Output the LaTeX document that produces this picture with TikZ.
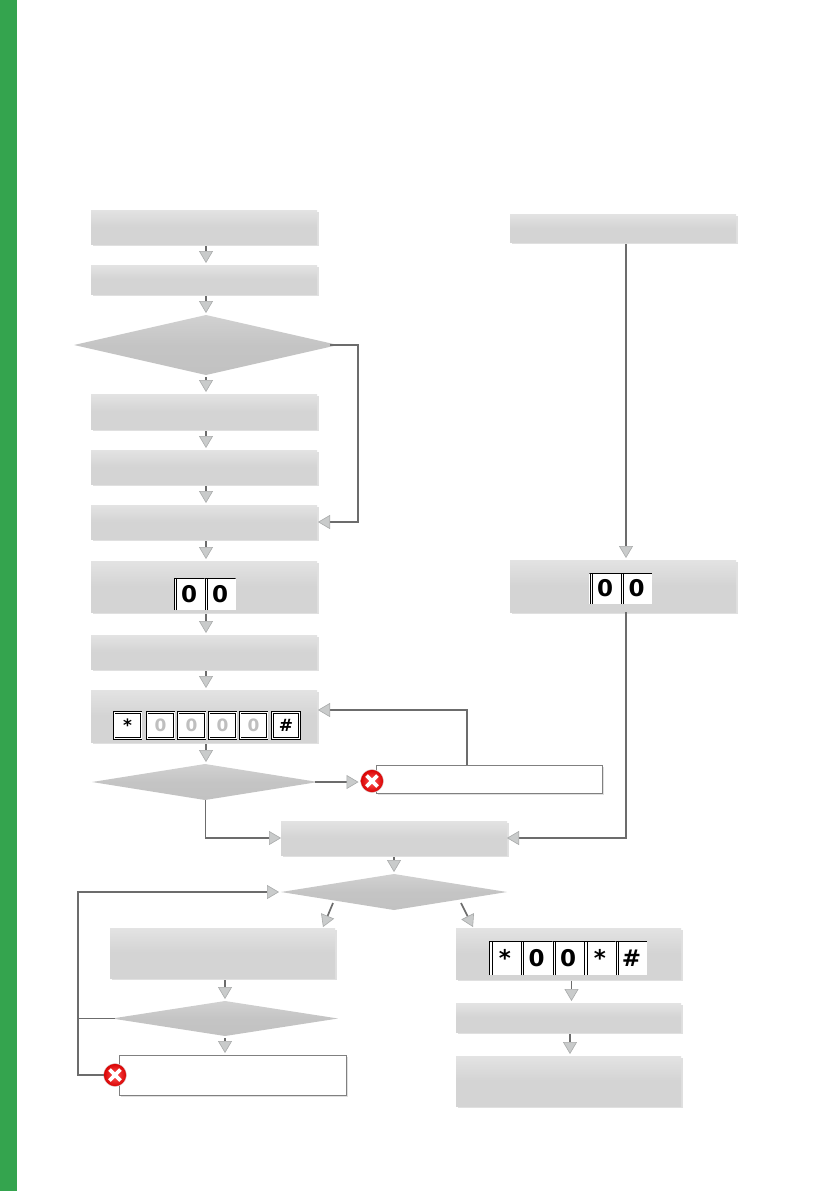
\documentclass[tikz,border=0pt]{standalone}
\usepackage{fontspec}
\setmainfont{DejaVu Sans}
\usetikzlibrary{shapes.geometric,arrows.meta,shadows}
\definecolor{bargreen}{HTML}{34A44E}
\definecolor{linegray}{HTML}{6C6C6C}
\definecolor{headfill}{HTML}{C9CBCB}
\definecolor{headedge}{HTML}{A8AAAA}
\tikzset{
  x=1pt,y=-1pt,
  softshadow/.style={general shadow={shadow xshift=1.8pt,shadow yshift=-1.8pt,fill=black!30,opacity=.4}},
  graybox/.style={rectangle,inner sep=0,outer sep=0,softshadow,top color=black!11,bottom color=black!17,middle color=black!17},
  whitebox/.style={rectangle,inner sep=0,outer sep=0,softshadow,fill=white,draw=black!50,line width=.8pt},
  decision/.style={diamond,inner sep=0,outer sep=0,aspect=3,top color=black!18,bottom color=black!24,middle color=black!23},
  conn/.style={draw=linegray,line width=1.7pt,-{Triangle[length=12pt,width=14pt,fill=headfill,color=headedge,line width=.6pt]}},
  plainconn/.style={draw=linegray,line width=1.8pt},
  shortconn/.style={conn,shorten <=2pt,shorten >=2pt},
  opencell/.style={rectangle,inner sep=0,outer sep=0,fill=white,font=\bfseries\fontsize{23}{23}\selectfont,
    path picture={\draw[black,line width=.7pt] (path picture bounding box.south west)++(.6,0) -- ++(0,-36) (path picture bounding box.south west)++(3,0) -- ++(0,-36);
      \draw[black,line width=1.2pt] (path picture bounding box.north west) -- (path picture bounding box.north east);}},
  framecell/.style={rectangle,inner sep=0,outer sep=0,minimum width=27pt,minimum height=26pt,fill=white,draw=black,line width=.6pt,double=white,double distance=1pt,font=\bfseries\fontsize{17}{17}\selectfont},
  dimcell/.style={framecell,text=black!25},
  errdisc/.style={circle,inner sep=0,outer sep=0,minimum size=23pt,inner color=red!65!white,outer color=red!85!black,draw=black!15,line width=.4pt}
}
\newcommand\gbox[6]{\node[#2,minimum width={(#5-#3)*1pt},minimum height={(#6-#4)*1pt}] (#1) at ({(#3+#5)/2},{(#4+#6)/2}) {};}
\newcommand\erricon[3]{\node[errdisc] (#1) at (#2,#3) {};
  \draw[white,line width=3.6pt] (#2-5.5,#3-5.5) -- (#2+5.5,#3+5.5) (#2-5.5,#3+5.5) -- (#2+5.5,#3-5.5);}
\begin{document}
\begin{tikzpicture}
\useasboundingbox (0,0) rectangle (839,1191);
\fill[bargreen] (0,0) rectangle (17,1191);
% left column
\gbox{b1}{graybox}{91}{210}{317}{244}
\gbox{b2}{graybox}{91}{265}{317}{294}
\gbox{d1}{decision}{74}{315}{338}{375}
\gbox{b3}{graybox}{91}{394}{317}{429}
\gbox{b4}{graybox}{91}{450}{317}{484}
\gbox{b5}{graybox}{91}{505}{317}{539}
\gbox{b6}{graybox}{91}{561}{317}{612}
\gbox{b7}{graybox}{91}{635}{317}{669}
\gbox{b8}{graybox}{91}{690}{317}{742}
\gbox{d2}{decision}{92}{764}{318}{800}
\gbox{e1}{whitebox}{376}{765}{602}{793}
% right column
\gbox{r1}{graybox}{510}{214}{736}{242}
\gbox{r2}{graybox}{510}{560}{736}{612}
% lower part
\gbox{b9}{graybox}{281}{821}{507}{855}
\gbox{d3}{decision}{281}{874}{507}{910}
\gbox{b10}{graybox}{110}{928}{335}{978}
\gbox{d4}{decision}{112}{1001}{338}{1036}
\gbox{e2}{whitebox}{119}{1055}{346}{1095}
\gbox{b11}{graybox}{456}{928}{681}{979}
\gbox{b12}{graybox}{456}{1003}{681}{1032}
\gbox{b13}{graybox}{456}{1056}{681}{1106}
% key cells
\node[opencell,minimum width=31pt,minimum height=32pt] (k1) at (189,594) {0};
\node[opencell,minimum width=31pt,minimum height=32pt] (k2) at (220,594) {0};
\node[framecell] (m1) at (127.5,725.5) {*};
\node[dimcell] (m2) at (160.5,725.5) {0};
\node[dimcell] (m3) at (191.5,725.5) {0};
\node[dimcell] (m4) at (222.5,725.5) {0};
\node[dimcell] (m5) at (253.5,725.5) {0};
\node[framecell] (m6) at (286,725.5) {\#};
\node[opencell,minimum width=31.5pt,minimum height=31pt] (n1) at (605,588.5) {0};
\node[opencell,minimum width=31.5pt,minimum height=31pt] (n2) at (636.5,588.5) {0};
\node[opencell,minimum width=31.6pt,minimum height=34pt] (p1) at (505,958) {*};
\node[opencell,minimum width=31.6pt,minimum height=34pt] (p2) at (536.6,958) {0};
\node[opencell,minimum width=31.6pt,minimum height=34pt] (p3) at (568.2,958) {0};
\node[opencell,minimum width=31.6pt,minimum height=34pt] (p4) at (599.8,958) {*};
\node[opencell,minimum width=31.6pt,minimum height=34pt] (p5) at (631.4,958) {\#};
% free ends
\coordinate (lo) at (78,1075);
\coordinate (lm) at (78,1018.5);
\coordinate (lt) at (78,892);
\coordinate (dl) at (333,903);
\coordinate (tl) at (323,927);
\coordinate (dr) at (461,903);
\coordinate (tr) at (473,927);
\coordinate (s1) at (358,345);
\coordinate (s2) at (358,522);
\coordinate (t5) at (318,522);
\coordinate (u1) at (467,710);
\coordinate (t8) at (318,710);
\coordinate (v1) at (205.5,838);
\coordinate (w1) at (626,838);
% connectors
\draw[shortconn] ([xshift=2pt]b1.south) -- ([xshift=2pt]b2.north);
\draw[shortconn] ([xshift=2pt]b2.south) -- (d1.north);
\draw[shortconn] (d1.south) -- ([xshift=2pt]b3.north);
\draw[shortconn] ([xshift=2pt]b3.south) -- ([xshift=2pt]b4.north);
\draw[shortconn] ([xshift=2pt]b4.south) -- ([xshift=2pt]b5.north);
\draw[shortconn] ([xshift=2pt]b5.south) -- ([xshift=2pt]b6.north);
\draw[shortconn] ([xshift=2pt]b6.south) -- ([xshift=2pt]b7.north);
\draw[shortconn] ([xshift=2pt]b7.south) -- ([xshift=2pt]b8.north);
\draw[shortconn] ([xshift=2pt]b8.south) -- ([xshift=1pt]d2.north);
\draw[conn,shorten <=-8pt] (d1.east) -- (s1) -- (s2) -- (t5);
\erricon{i1}{372}{781}
\erricon{i2}{115}{1075}
\draw[conn,shorten >=2pt,shorten <=-3pt] (d2.east) -- (i1.west |- d2.east);
\draw[conn] (e1.north -| u1) -- (u1) -- (t8);
\draw[conn] ([xshift=.5pt]d2.south) -- (v1) -- (b9.west);
\draw[conn,shorten <=2pt,shorten >=2pt] (r1.south -| w1) -- (r2.north -| w1);
\draw[conn] (r2.south -| w1) -- (w1) -- (b9.east);
\draw[shortconn] (b9.south) -- (d3.north);
\draw[conn] (dl) -- (tl);
\draw[conn] (dr) -- (tr);
\draw[shortconn] (b10.south -| d4.north) -- (d4.north);
\draw[shortconn] (d4.south) -- (d4.south |- e2.north);
\draw[shortconn] ([xshift=3pt]b11.south) -- ([xshift=3pt]b12.north);
\draw[shortconn] ([xshift=1.5pt]b12.south) -- ([xshift=1.5pt]b13.north);
\draw[conn,shorten >=2pt] (i2.west) -- (lo) -- (lt) -- (d3.west);
\draw[plainconn,shorten <=-3pt] (d4.west) -- (lm);
\end{tikzpicture}
\end{document}
